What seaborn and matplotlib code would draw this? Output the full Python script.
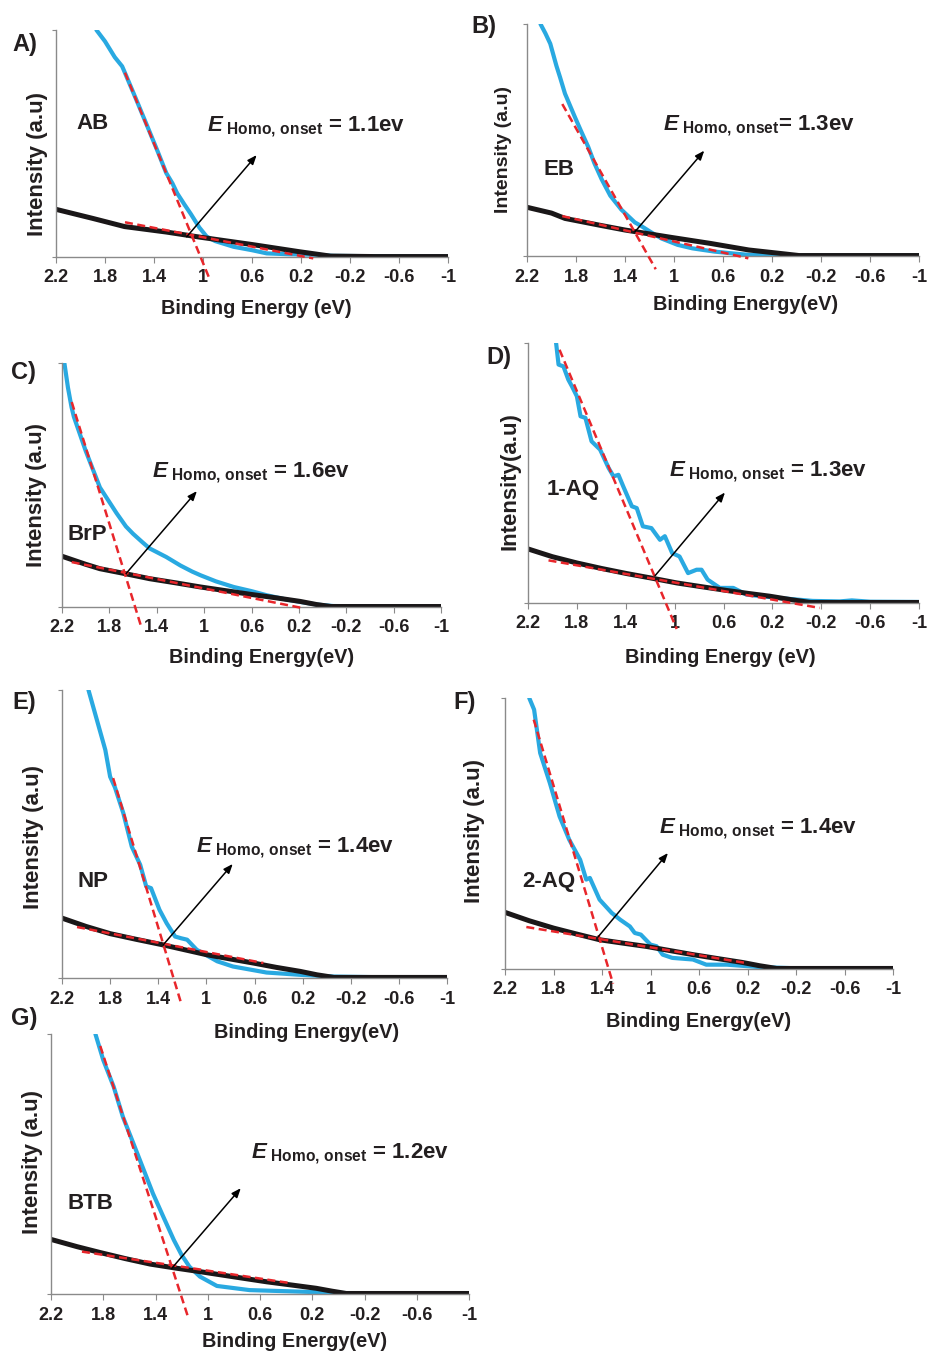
import matplotlib
matplotlib.use("Agg")
import matplotlib.pyplot as plt
import seaborn as sns

sns.set_style("ticks")
plt.rcParams["font.family"] = ["Liberation Sans", "DejaVu Sans"]
plt.rcParams.update({
    "mathtext.fontset": "custom",
    "mathtext.rm": "Liberation Sans:bold",
    "mathtext.bf": "Liberation Sans:bold",
    "mathtext.it": "Liberation Sans:bold:italic",
    "mathtext.sf": "Liberation Sans:bold",
})

# ---------------- data ----------------
xticks = [2.2, 1.8, 1.4, 1.0, 0.6, 0.2, -0.2, -0.6, -1.0]
xtick_labels = ["2.2", "1.8", "1.4", "1", "0.6", "0.2", "-0.2", "-0.6", "-1"]

# A) AB
ab_blue_x = [1.87, 1.80, 1.72, 1.66, 1.64, 1.55, 1.45, 1.37, 1.30, 1.25, 1.21, 1.15, 1.10, 1.03, 0.97, 0.90, 0.75, 0.60, 0.48, 0.30, 0.07, -0.06, -0.30, -0.60, -1.00]
ab_blue_y = [100, 95, 88, 84, 81.5, 70, 57, 46.5, 37, 32.5, 28, 23, 19, 13, 9, 7, 4.5, 3, 1.6, 1.2, 1.0, 0.5, 0.4, 0.3, 0.3]
ab_black_x = [2.2, 1.9, 1.64, 1.3, 1.02, 0.6, 0.21, -0.04, -0.4, -1.0]
ab_black_y = [21, 17, 13.4, 11, 8.7, 5.5, 2.3, 0.4, 0.2, 0.2]
ab_tangents = [(1.637, 81.2, 0.943, -10.1), (1.637, 15.3, 0.100, -0.6)]
ab_arrow = (1.133, 8.9, 0.562, 44.9)

# B) EB
eb_blue_x = [2.09, 2.05, 2.01, 1.96, 1.93, 1.89, 1.85, 1.81, 1.76, 1.70, 1.65, 1.59, 1.52, 1.43, 1.37, 1.32, 1.27, 1.18, 1.10, 0.97, 0.85, 0.67, 0.50, 0.39, 0.20, 0.0, -0.3, -0.6, -1.0]
eb_blue_y = [100, 96, 91.5, 82, 77, 70, 65, 60, 54, 47, 40, 33, 26, 20, 17, 14.5, 13, 10, 7.5, 4.8, 3.3, 1.9, 1.0, 0.5, 0.3, 0.2, 0.2, 0.2, 0.2]
eb_black_x = [2.2, 2.0, 1.89, 1.6, 1.4, 1.02, 0.7, 0.39, 0.15, -0.02, -0.4, -1.0]
eb_black_y = [21, 18.5, 16.2, 13.2, 11.2, 8.0, 5.4, 2.6, 1.2, 0.2, 0.2, 0.2]
eb_tangents = [(1.912, 65.5, 1.149, -5.7), (1.912, 17.2, 0.393, -1.0)]
eb_arrow = (1.318, 10.5, 0.753, 45.4)

# C) BrP
brp_blue_x = [2.18, 2.15, 2.12, 2.10, 2.05, 2.00, 1.96, 1.92, 1.88, 1.80, 1.74, 1.66, 1.60, 1.52, 1.46, 1.40, 1.32, 1.20, 1.10, 1.03, 0.90, 0.75, 0.60, 0.47, 0.30, 0.19, 0.05, -0.09, -0.3, -0.6, -1.0]
brp_blue_y = [100, 90, 82, 78, 71, 64, 59, 54, 49, 43, 38.5, 33, 30, 26.5, 24, 22.5, 20.5, 17, 14.5, 13, 10.5, 8.2, 6.5, 4.8, 3.0, 2.1, 1.0, 0.4, 0.3, 0.2, 0.2]
brp_black_x = [2.2, 2.0, 1.88, 1.66, 1.46, 1.24, 1.03, 0.82, 0.61, 0.4, 0.19, 0.05, -0.07, -0.4, -1.0]
brp_black_y = [20.8, 17.5, 15.7, 13.6, 11.6, 9.9, 8.2, 6.7, 5.2, 3.8, 2.3, 1.0, 0.2, 0.2, 0.2]
brp_tangents = [(2.118, 84, 1.526, -8.9), (2.118, 18.4, 0.174, -0.4)]
brp_arrow = (1.659, 13.7, 1.061, 47.5)

# D) 1-AQ
aq1_blue_x = [1.97, 1.95, 1.91, 1.87, 1.84, 1.80, 1.77, 1.73, 1.68, 1.61, 1.54, 1.50, 1.46, 1.42, 1.35, 1.31, 1.26, 1.19, 1.12, 1.08, 1.02, 0.96, 0.89, 0.82, 0.78, 0.73, 0.63, 0.52, 0.41, 0.14, -0.13, -0.35, -0.45, -0.6, -1.0]
aq1_blue_y = [100, 91.7, 91, 85.9, 83.3, 79.5, 71.8, 71.2, 62.2, 59, 51.9, 48.7, 49.3, 44.8, 37.2, 36.5, 29.5, 28.8, 24.3, 25.7, 19.2, 17.9, 11.5, 12.8, 12.8, 9, 5.8, 5.8, 3.2, 1.9, 0.8, 0.6, 1.0, 0.5, 0.4]
aq1_black_x = [2.2, 2.0, 1.8, 1.6, 1.39, 1.18, 0.98, 0.77, 0.57, 0.4, 0.22, 0.05, -0.11, -0.4, -1.0]
aq1_black_y = [20.8, 17.8, 15.4, 13.3, 11.3, 9.5, 7.7, 6.2, 4.8, 3.7, 2.6, 1.3, 0.2, 0.2, 0.2]
aq1_tangents = [(1.942, 97.4, 0.983, -10), (2.032, 16.4, -0.188, -1.9)]
aq1_arrow = (1.160, 10.5, 0.588, 42.5)

# E) NP
np_blue_x = [1.98, 1.91, 1.84, 1.80, 1.76, 1.69, 1.62, 1.55, 1.50, 1.46, 1.39, 1.33, 1.26, 1.21, 1.16, 1.08, 0.91, 0.78, 0.50, 0.22, -0.06, -0.4, -1.0]
np_blue_y = [100, 89.6, 79.2, 69.9, 66.2, 57.2, 45.6, 39.3, 31.8, 31.2, 23.7, 19, 14.4, 13.8, 13.3, 9.8, 5.8, 4.0, 1.9, 1.1, 0.5, 0.3, 0.3]
np_black_x = [2.2, 2.0, 1.8, 1.58, 1.36, 1.18, 1.0, 0.8, 0.61, 0.42, 0.22, 0.08, -0.06, -0.4, -1.0]
np_black_y = [20.8, 17.9, 15.4, 13.4, 11.5, 9.8, 8.1, 6.6, 5.2, 3.7, 2.3, 1.1, 0.2, 0.2, 0.2]
np_tangents = [(1.775, 69.4, 1.206, -9.3), (2.075, 17.7, 0.526, 5.2)]
np_arrow = (1.359, 11.5, 0.781, 39.6)

# F) 2-AQ
aq2_blue_x = [2.00, 1.96, 1.91, 1.83, 1.75, 1.67, 1.58, 1.53, 1.50, 1.42, 1.32, 1.25, 1.17, 1.13, 1.08, 1.00, 0.95, 0.90, 0.82, 0.65, 0.54, 0.37, 0.10, -0.18, -0.5, -1.0]
aq2_blue_y = [100, 95.7, 79.7, 68.6, 56.3, 47.7, 40.3, 33, 33.6, 25.6, 20.7, 18.2, 15.7, 13.3, 12.7, 9.0, 8.4, 5.3, 4.1, 3.5, 1.6, 1.6, 0.7, 0.3, 0.3, 0.3]
aq2_black_x = [2.2, 2.0, 1.8, 1.6, 1.42, 1.22, 1.03, 0.84, 0.65, 0.44, 0.24, 0.1, -0.04, -0.4, -1.0]
aq2_black_y = [20.9, 17.8, 15.1, 12.8, 10.8, 9.5, 8.3, 6.8, 5.3, 3.8, 2.4, 1.2, 0.2, 0.2, 0.2]
aq2_tangents = [(1.963, 92, 1.309, -5.4), (2.024, 15.5, 0.209, 2.2)]
aq2_arrow = (1.433, 11.8, 0.856, 42.8)

# G) BTB
btb_blue_x = [1.86, 1.80, 1.72, 1.65, 1.57, 1.49, 1.42, 1.34, 1.26, 1.20, 1.14, 1.06, 0.93, 0.68, 0.29, -0.09, -0.5, -1.0]
btb_blue_y = [100, 90, 79.7, 68.2, 58, 47.7, 38.7, 29.7, 20.8, 15, 10.5, 6.7, 3.1, 1.5, 0.9, 0.3, 0.2, 0.2]
btb_black_x = [2.2, 2.0, 1.82, 1.63, 1.44, 1.25, 1.06, 0.8, 0.55, 0.35, 0.17, 0.05, -0.06, -0.4, -1.0]
btb_black_y = [21, 18.2, 15.9, 13.6, 11.5, 10, 8.6, 6.6, 4.7, 3.4, 2.2, 1.1, 0.2, 0.2, 0.2]
btb_tangents = [(1.823, 95.4, 1.148, -9.3), (1.963, 16.3, 0.357, 4.1)]
btb_arrow = (1.275, 9.9, 0.747, 40.7)

samples = ["AB", "EB", "BrP", "1-AQ", "NP", "2-AQ", "BTB"]
onsets = ["1.1", "1.3", "1.6", "1.3", "1.4", "1.4", "1.2"]
letters = ["A)", "B)", "C)", "D)", "E)", "F)", "G)"]
ylabels = ["Intensity (a.u)", "Intensity (a.u)", "Intensity (a.u)", "Intensity(a.u)",
           "Intensity (a.u)", "Intensity (a.u)", "Intensity (a.u)"]
xlabels = ["Binding Energy (eV)", "Binding Energy(eV)", "Binding Energy(eV)", "Binding Energy (eV)",
           "Binding Energy(eV)", "Binding Energy(eV)", "Binding Energy(eV)"]

# ---------------- layout (pixels in a 927x1353 canvas) ----------------
W, H = 927, 1353
axes_px = [(56, 448, 30, 257), (527, 919, 24, 256), (62, 441, 363, 607), (528, 919, 343, 603),
           (62, 447, 690, 978), (505, 893, 698, 969), (51, 469, 1034, 1294)]
letter_px = [(12, 45), (471, 26), (11, 373), (486, 357), (12, 703), (453, 703), (11, 1019)]
label_pos = [(1.90, 59), (1.94, 37.4), (1.99, 29.8), (1.83, 43.6), (1.94, 33.5), (1.84, 32.3), (1.90, 34.9)]
annot_pos = [(0.965, 55.6), (1.087, 54.3), (1.442, 53.3), (1.043, 48.7), (1.087, 43.9), (0.932, 50.2), (0.671, 52.2)]
ylab_coords = [(-0.048, 0.41), (-0.059, 0.46), (-0.067, 0.458), (-0.045, 0.47), (-0.075, 0.488), (-0.078, 0.511), (-0.045, 0.509)]
ylab_size = [16, 14, 16, 16, 16, 16, 16]
xlab_coords = [(0.51, -0.225), (0.558, -0.207), (0.527, -0.205), (0.491, -0.21), (0.634, -0.19), (0.5, -0.193), (0.582, -0.183)]
eq_space = [" ", "", " ", " ", " ", " ", " "]

blues = [(ab_blue_x, ab_blue_y), (eb_blue_x, eb_blue_y), (brp_blue_x, brp_blue_y), (aq1_blue_x, aq1_blue_y),
         (np_blue_x, np_blue_y), (aq2_blue_x, aq2_blue_y), (btb_blue_x, btb_blue_y)]
blacks = [(ab_black_x, ab_black_y), (eb_black_x, eb_black_y), (brp_black_x, brp_black_y), (aq1_black_x, aq1_black_y),
          (np_black_x, np_black_y), (aq2_black_x, aq2_black_y), (btb_black_x, btb_black_y)]
tangents = [ab_tangents, eb_tangents, brp_tangents, aq1_tangents, np_tangents, aq2_tangents, btb_tangents]
arrows = [ab_arrow, eb_arrow, brp_arrow, aq1_arrow, np_arrow, aq2_arrow, btb_arrow]

BLUE = "#29a9e1"
BLACK = "#1a1718"
RED = "#e8262b"
SPINE = "#8a8a8a"
TXT = "#231f20"

fig = plt.figure(figsize=(W / 100, H / 100), dpi=100)
fig.patch.set_facecolor("white")

for i in range(7):
    l, r, t, b = axes_px[i]
    ax = fig.add_axes([l / W, (H - b) / H, (r - l) / W, (b - t) / H])
    ax.set_facecolor("none")
    bx, by = blues[i]
    kx, ky = blacks[i]
    sns.lineplot(x=bx, y=by, ax=ax, color=BLUE, lw=3.0, sort=False, estimator=None)
    sns.lineplot(x=kx, y=ky, ax=ax, color=BLACK, lw=3.6, sort=False, estimator=None)
    for (x0, y0, x1, y1) in tangents[i]:
        ax.plot([x0, x1], [y0, y1], ls=(0, (3.2, 1.8)), color=RED, lw=1.8, clip_on=False, zorder=4)
    x0, y0, x1, y1 = arrows[i]
    ax.annotate("", xy=(x1, y1), xytext=(x0, y0),
                arrowprops=dict(arrowstyle="-|>,head_length=0.55,head_width=0.22", color="black",
                                lw=1.1, shrinkA=0, shrinkB=0), zorder=5)
    ax.set_xlim(2.2, -1.0)
    ax.set_ylim(0, 100)
    sns.despine(ax=ax)
    for s in ("left", "bottom"):
        ax.spines[s].set_color(SPINE)
        ax.spines[s].set_linewidth(1.0)
    ax.set_xticks(xticks)
    ax.set_xticklabels(xtick_labels, fontsize=13, fontweight="bold", color=TXT)
    ax.set_yticks([0, 100])
    ax.set_yticklabels(["", ""])
    ax.tick_params(axis="x", direction="out", length=4, width=0.8, color=SPINE, pad=5)
    ax.tick_params(axis="y", direction="out", length=3, width=0.8, color=SPINE)
    ax.set_xlabel(xlabels[i], fontsize=14.3, fontweight="bold", color=TXT)
    ax.xaxis.set_label_coords(*xlab_coords[i])
    ax.xaxis.label.set_va("center")
    ax.set_ylabel(ylabels[i], fontsize=ylab_size[i], fontweight="bold", color=TXT)
    ax.yaxis.set_label_coords(*ylab_coords[i])
    ax.yaxis.label.set_va("center")
    lx, ly = label_pos[i]
    ax.text(lx, ly, samples[i], fontsize=16, fontweight="bold", color=TXT, ha="center", va="center")
    axx, axy = annot_pos[i]
    ax.text(axx, axy, r"$E_{\mathrm{\ Homo,\!\ onset}}$" + eq_space[i] + "= " + onsets[i] + "ev",
            fontsize=16, fontweight="bold", color=TXT, ha="left", va="baseline")
    lpx, lpy = letter_px[i]
    fig.text(lpx / W, 1 - lpy / H, letters[i], fontsize=17, fontweight="bold", color=TXT,
             ha="left", va="center")

fig.savefig("out.png", dpi=100, facecolor="white")
